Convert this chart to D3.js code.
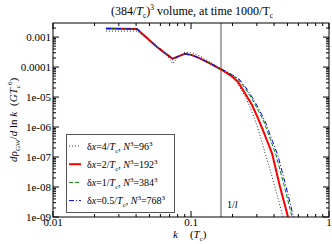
<!DOCTYPE html>
<html>
<head>
<meta charset="utf-8">
<script src="https://cdn.jsdelivr.net/npm/d3@7"></script>
<style>
  body { margin: 0; background: #fff; }
  text { font-family: "Liberation Serif", "DejaVu Serif", serif; fill: #000; }
</style>
</head>
<body>
<svg id="chart" width="332" height="244"></svg>
<script>
// values
const kDot = [0.0242, 0.0406, 0.0567, 0.0648, 0.0737, 0.0818, 0.0905, 0.1016, 0.116, 0.137, 0.168, 0.192, 0.219, 0.246, 0.268, 0.291, 0.316, 0.344, 0.393, 0.464];
const vDot = [1.58e-3, 1.58e-3, 5.0e-4, 3.16e-4, 1.29e-4, 2.33e-4, 3.16e-4, 2.93e-4, 2.33e-4, 1.47e-4, 8.6e-5, 5.85e-5, 2.71e-5, 1.08e-5, 4.64e-6, 1.71e-6, 5.4e-7, 1.36e-7, 1.71e-8, 1e-9];

const kRed = [0.0242, 0.0406, 0.0567, 0.0648, 0.0737, 0.0818, 0.0905, 0.1016, 0.116, 0.137, 0.168, 0.192, 0.219, 0.246, 0.277, 0.306, 0.332, 0.354, 0.386, 0.442, 0.505];
const vRed = [1.92e-3, 1.85e-3, 4.64e-4, 2.93e-4, 1.89e-4, 2.33e-4, 2.77e-4, 2.51e-4, 1.95e-4, 1.33e-4, 7.9e-5, 5.4e-5, 3.24e-5, 1.33e-5, 5.4e-6, 1.95e-6, 7.9e-7, 3.7e-7, 1.36e-7, 1.0e-8, 1e-9];

const kGreen = [0.0242, 0.0406, 0.0567, 0.0648, 0.0737, 0.0818, 0.0905, 0.1016, 0.116, 0.137, 0.168, 0.192, 0.219, 0.246, 0.277, 0.306, 0.338, 0.373, 0.413, 0.472, 0.540];
const vGreen = [1.92e-3, 1.85e-3, 4.64e-4, 2.93e-4, 1.89e-4, 2.33e-4, 2.77e-4, 2.51e-4, 1.95e-4, 1.33e-4, 7.9e-5, 5.85e-5, 3.98e-5, 2.0e-5, 8.6e-6, 3.7e-6, 1.47e-6, 4.3e-7, 1.17e-7, 1.17e-8, 1e-9];

const kBlue = [0.0242, 0.0406, 0.0567, 0.0648, 0.0737, 0.0818, 0.0905, 0.1016, 0.116, 0.137, 0.170, 0.195, 0.223, 0.251, 0.283, 0.313, 0.346, 0.382, 0.425, 0.485, 0.553];
const vBlue = [1.95e-3, 1.85e-3, 4.64e-4, 2.93e-4, 1.89e-4, 2.33e-4, 2.77e-4, 2.51e-4, 1.95e-4, 1.33e-4, 8.2e-5, 5.85e-5, 3.98e-5, 2.0e-5, 8.6e-6, 3.7e-6, 1.47e-6, 4.3e-7, 1.17e-7, 1.17e-8, 1e-9];

const kInv = 0.165;  // 1/l marker
const xTicks = [0.01, 0.1, 1];
const xTickLabels = ["0.01", "0.1", "1"];
const yTicks = [1e-3, 1e-4, 1e-5, 1e-6, 1e-7, 1e-8, 1e-9];
const yTickLabels = ["0.001", "0.0001", "1e-05", "1e-06", "1e-07", "1e-08", "1e-09"];

const series = [
  {k: kDot, v: vDot, color: "#333", width: 1, dash: "1,2", lab: ["4", "96"]},
  {k: kRed, v: vRed, color: "#ff0000", width: 2, dash: null, lab: ["2", "192"]},
  {k: kGreen, v: vGreen, color: "#008000", width: 1, dash: "4,2", lab: ["1", "384"]},
  {k: kBlue, v: vBlue, color: "#0000ff", width: 1, dash: "5,2,1,2", lab: ["0.5", "768"]}
];

const svg = d3.select("#chart");
const pLeft = 53, pRight = 329, pTop = 23, pBottom = 217;

const x = d3.scaleLog().domain([0.01, 1]).range([pLeft, pRight]);
const y = d3.scaleLog().domain([1e-9, Math.pow(10, -2.53)]).range([pBottom, pTop]);

svg.append("clipPath").attr("id", "clip")
  .append("rect").attr("x", pLeft).attr("y", pTop).attr("width", pRight - pLeft).attr("height", pBottom - pTop);

// minor + major ticks, mirrored on all sides, pointing inwards
const minorX = [], minorY = [];
for (let e = -2; e < 0; e++) for (let m = 2; m < 10; m++) minorX.push(m * Math.pow(10, e));
for (let e = -9; e < -2; e++) for (let m = 2; m < 10; m++) {
  const v = m * Math.pow(10, e);
  if (v <= y.domain()[1]) minorY.push(v);
}
const tk = svg.append("g").attr("stroke", "#000").attr("stroke-width", 1);
xTicks.forEach(t => {
  tk.append("line").attr("x1", x(t)).attr("x2", x(t)).attr("y1", pBottom).attr("y2", pBottom - 6);
  tk.append("line").attr("x1", x(t)).attr("x2", x(t)).attr("y1", pTop).attr("y2", pTop + 6);
});
minorX.forEach(t => {
  tk.append("line").attr("x1", x(t)).attr("x2", x(t)).attr("y1", pBottom).attr("y2", pBottom - 3);
  tk.append("line").attr("x1", x(t)).attr("x2", x(t)).attr("y1", pTop).attr("y2", pTop + 3);
});
yTicks.forEach(t => {
  tk.append("line").attr("y1", y(t)).attr("y2", y(t)).attr("x1", pLeft).attr("x2", pLeft + 6);
  tk.append("line").attr("y1", y(t)).attr("y2", y(t)).attr("x1", pRight).attr("x2", pRight - 6);
});
minorY.forEach(t => {
  tk.append("line").attr("y1", y(t)).attr("y2", y(t)).attr("x1", pLeft).attr("x2", pLeft + 3);
  tk.append("line").attr("y1", y(t)).attr("y2", y(t)).attr("x1", pRight).attr("x2", pRight - 3);
});

// tick labels
xTicks.forEach((t, i) => {
  svg.append("text").attr("x", x(t)).attr("y", pBottom + 9).attr("text-anchor", "middle")
    .attr("font-size", 11).text(xTickLabels[i]);
});
yTicks.forEach((t, i) => {
  svg.append("text").attr("x", pLeft - 2).attr("y", y(t) + 4).attr("text-anchor", "end")
    .attr("font-size", 11).text(yTickLabels[i]);
});

// 1/l line
svg.append("line").attr("x1", x(kInv)).attr("x2", x(kInv)).attr("y1", pTop).attr("y2", pBottom)
  .attr("stroke", "#555").attr("stroke-width", 1);
svg.append("text").attr("x", x(kInv) + 6).attr("y", 208).attr("font-size", 10)
  .html('1/<tspan font-style="italic">l</tspan>');

// curves
const line = d3.line().x(d => x(d[0])).y(d => y(d[1]));
const plot = svg.append("g").attr("clip-path", "url(#clip)");
series.forEach(s => {
  plot.append("path")
    .datum(s.k.map((k, i) => [k, s.v[i]]))
    .attr("d", line)
    .attr("fill", "none")
    .attr("stroke", s.color)
    .attr("stroke-width", s.width)
    .attr("stroke-dasharray", s.dash);
});

// frame
svg.append("rect").attr("x", pLeft).attr("y", pTop).attr("width", pRight - pLeft).attr("height", pBottom - pTop)
  .attr("fill", "none").attr("stroke", "#000").attr("stroke-width", 1);

// legend
const lg = svg.append("g");
lg.append("rect").attr("x", 66.5).attr("y", 134.5).attr("width", 108).attr("height", 78)
  .attr("fill", "#fff").attr("stroke", "#555").attr("stroke-width", 1);
series.forEach((s, i) => {
  const ly = 146 + i * 18.2;
  lg.append("line").attr("x1", 69).attr("x2", 81).attr("y1", ly).attr("y2", ly)
    .attr("stroke", s.color).attr("stroke-width", s.width).attr("stroke-dasharray", s.dash);
  lg.append("text").attr("x", 87).attr("y", ly + 3.5).attr("font-size", 10)
    .html(`δ<tspan font-style="italic">x</tspan>=${s.lab[0]}/<tspan font-style="italic">T</tspan><tspan font-size="7" dy="3">c</tspan><tspan dy="-3">, </tspan><tspan font-style="italic">N</tspan><tspan font-size="7" dy="-4">3</tspan><tspan dy="4">=${s.lab[1]}</tspan><tspan font-size="7" dy="-4">3</tspan>`);
});

// title
svg.append("text").attr("x", 192).attr("y", 15).attr("text-anchor", "middle").attr("font-size", 12)
  .html('(384/<tspan font-style="italic">T</tspan><tspan font-size="7.5" dy="3">c</tspan><tspan dy="-3">)</tspan><tspan font-size="7.5" dy="-5">3</tspan><tspan dy="5"> volume, at time 1000/T</tspan><tspan font-size="7.5" dy="3">c</tspan>');

// axis titles
svg.append("text").attr("x", 173).attr("y", 238).attr("font-size", 11)
  .html('<tspan font-style="italic">k</tspan><tspan dx="12">(</tspan><tspan font-style="italic">T</tspan><tspan font-size="7" dy="2.5">c</tspan><tspan dy="-2.5">)</tspan>');
svg.append("text").attr("transform", "translate(17,120) rotate(-90)").attr("text-anchor", "middle").attr("font-size", 11)
  .html('<tspan font-style="italic">d</tspan>ρ<tspan font-size="7" dy="3">GW</tspan><tspan dy="-3">/</tspan><tspan font-style="italic">d</tspan> ln <tspan font-style="italic">k</tspan><tspan dx="6">(</tspan><tspan font-style="italic">GT</tspan><tspan font-size="7" dy="3">c</tspan><tspan font-size="7" dy="-8">6</tspan><tspan dy="5">)</tspan>');
</script>
</body>
</html>
